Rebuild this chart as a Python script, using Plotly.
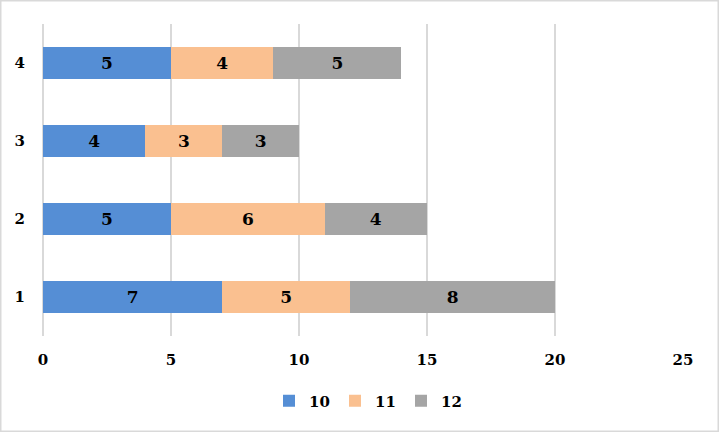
import plotly.graph_objects as go

categories = ["1", "2", "3", "4"]
series_names = ["10", "11", "12"]
values_10 = [7, 5, 4, 5]
values_11 = [5, 6, 3, 4]
values_12 = [8, 4, 3, 5]
x_ticks = [0, 5, 10, 15, 20, 25]

colors = ["#558ED5", "#FAC090", "#A5A5A5"]
FONT = "DejaVu Serif"

fig = go.Figure()
for name, vals, col in zip(series_names, [values_10, values_11, values_12], colors):
    fig.add_trace(go.Bar(
        y=categories, x=vals, name=name, orientation="h",
        marker=dict(color=col, line=dict(width=0)),
        text=vals, texttemplate="%{x}", textposition="inside",
        insidetextanchor="middle",
        textfont=dict(family=FONT, size=17, color="black", weight="bold"),
    ))

W, H = 719, 432
ml, mr, mt, mb = 43, 36, 24, 96
pw, ph = W - ml - mr, H - mt - mb

fig.update_layout(
    width=W, height=H,
    margin=dict(l=ml, r=mr, t=mt, b=mb, autoexpand=False),
    barmode="stack", bargap=0.59,
    plot_bgcolor="white", paper_bgcolor="white",
    font=dict(family=FONT, size=15, color="black"),
    xaxis=dict(range=[0, 25], tickvals=x_ticks, showgrid=True, gridcolor="#D9D9D9",
               gridwidth=2, zeroline=True, zerolinecolor="#D9D9D9", zerolinewidth=2,
               showline=False, automargin=False,
               tickfont=dict(family=FONT, size=15, weight="bold", color="black"),
               ticklabelstandoff=13, fixedrange=True),
    yaxis=dict(type="category", showgrid=False, showline=False, zeroline=False,
               automargin=False, fixedrange=True,
               tickfont=dict(family=FONT, size=15, weight="bold", color="black"),
               ticklabelstandoff=17),
    showlegend=True,
    legend=dict(orientation="h", x=(368 - ml) / pw, xanchor="center",
                y=(mt + ph - 401) / ph, yanchor="middle", traceorder="normal",
                font=dict(family=FONT, size=15, weight="bold", color="black"),
                itemwidth=30, tracegroupgap=0,
                entrywidth=21, entrywidthmode="pixels"),
    shapes=[dict(type="rect", xref="paper", yref="paper",
                 x0=(0.75 - ml) / pw, x1=(W - 0.75 - ml) / pw,
                 y0=(mt + ph - (H - 0.75)) / ph, y1=(mt + ph - 0.75) / ph,
                 line=dict(color="#D9D9D9", width=1.5), layer="below")],
)

fig.write_html("out.html", config={"displayModeBar": False},
               post_script="document.body.style.margin='0';")
